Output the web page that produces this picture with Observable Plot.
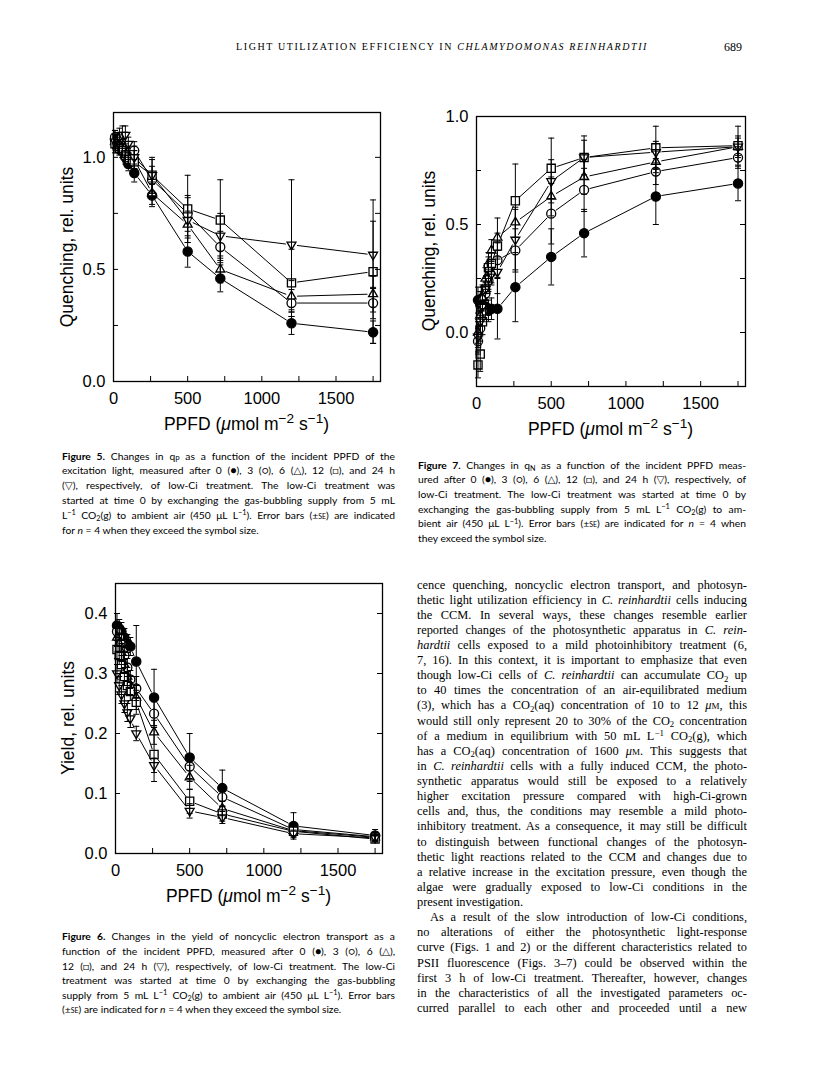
<!DOCTYPE html>
<html><head><meta charset="utf-8">
<script src="https://cdn.jsdelivr.net/npm/d3@7"></script>
<script src="https://cdn.jsdelivr.net/npm/@observablehq/plot@0.6"></script>
<style>
body{margin:0;background:#fff;}
#page{position:relative;width:816px;height:1073px;overflow:hidden;background:#fff;color:#000;}
.ln{position:absolute;white-space:nowrap;line-height:14px;}
.cap{font-family:Lato,"DejaVu Sans",sans-serif;font-size:10.3px;}
.bd{font-family:"Liberation Serif",serif;font-size:12.4px;}
.hd{font-family:"Liberation Serif",serif;font-size:10px;}
.ax{position:absolute;font-family:"Liberation Sans",Arial,sans-serif;font-size:17.5px;white-space:nowrap;line-height:18px;}
.ln sub,.ax sub{font-size:70%;vertical-align:baseline;position:relative;top:0.3em;}
.ln sup,.ax sup{font-size:72%;vertical-align:baseline;position:relative;top:-0.45em;}
.ax sup{font-size:78%;top:-0.5em;}
.sc{font-variant:small-caps;}
</style></head>
<body><div id="page"></div>
<script>
// ---------------- data ----------------
const ppfd = [10, 25, 40, 60, 80, 100, 140, 260, 500, 720, 1200, 1750];
const treatments = ["0 h", "3 h", "6 h", "12 h", "24 h"];
const xTickLabels = [0, 500, 1000, 1500];
const xMinorTicks = [250, 500, 750, 1000, 1250, 1500, 1750];

// Figure 5: qP
const qP_0h  = [1.08, 1.07, 1.05, 1.03, 1.00, 0.97, 0.93, 0.83, 0.58, 0.46, 0.26, 0.22];
const qP_3h  = [1.09, 1.08, 1.07, 1.05, 1.04, 1.02, 1.03, 0.90, 0.75, 0.60, 0.35, 0.35];
const qP_6h  = [1.07, 1.06, 1.05, 1.03, 1.01, 0.99, 0.99, 0.84, 0.70, 0.50, 0.38, 0.39];
const qP_12h = [1.06, 1.05, 1.04, 1.03, 1.01, 0.99, 0.98, 0.92, 0.77, 0.72, 0.44, 0.49];
const qP_24h = [1.07, 1.08, 1.09, 1.10, 1.10, 1.06, 1.00, 0.92, 0.72, 0.65, 0.61, 0.565];
const qP_0h_se  = [0.04, 0.03, 0.03, 0.02, 0.03, 0.03, 0.04, 0.05, 0.07, 0.06, 0.05, 0.05];
const qP_3h_se  = [0.03, 0.03, 0.03, 0.03, 0.03, 0.03, 0.04, 0.06, 0.08, 0.07, 0.06, 0.07];
const qP_6h_se  = [0.03, 0.03, 0.03, 0.03, 0.03, 0.03, 0.04, 0.05, 0.06, 0.06, 0.07, 0.08];
const qP_12h_se = [0.04, 0.03, 0.03, 0.03, 0.03, 0.03, 0.05, 0.08, 0.15, 0.18, 0.15, 0.32];
const qP_24h_se = [0.03, 0.03, 0.04, 0.04, 0.04, 0.03, 0.05, 0.07, 0.10, 0.10, 0.29, 0.15];
const qP_yLabels = [0, 0.5, 1.0];
const qP_yTicks = [0.25, 0.5, 0.75, 1.0];

// Figure 7: qN
const qN_0h  = [0.15, 0.13, 0.16, 0.12, 0.10, 0.11, 0.11, 0.21, 0.35, 0.46, 0.63, 0.69];
const qN_3h  = [-0.04, 0.02, 0.10, 0.18, 0.24, 0.28, 0.335, 0.38, 0.55, 0.66, 0.745, 0.81];
const qN_6h  = [0.00, 0.08, 0.16, 0.25, 0.32, 0.38, 0.44, 0.51, 0.63, 0.72, 0.79, 0.86];
const qN_12h = [-0.15, -0.10, 0.05, 0.20, 0.30, 0.32, 0.40, 0.61, 0.76, 0.81, 0.855, 0.865];
const qN_24h = [-0.02, 0.05, 0.12, 0.20, 0.25, 0.27, 0.28, 0.43, 0.70, 0.81, 0.835, 0.86];
const qN_0h_se  = [0.06, 0.06, 0.06, 0.06, 0.05, 0.05, 0.14, 0.16, 0.13, 0.11, 0.13, 0.08];
const qN_3h_se  = [0.06, 0.06, 0.05, 0.05, 0.05, 0.05, 0.08, 0.10, 0.14, 0.10, 0.06, 0.05];
const qN_6h_se  = [0.05, 0.05, 0.05, 0.05, 0.05, 0.05, 0.09, 0.07, 0.09, 0.08, 0.05, 0.05];
const qN_12h_se = [0.06, 0.08, 0.06, 0.05, 0.05, 0.05, 0.06, 0.17, 0.14, 0.10, 0.10, 0.09];
const qN_24h_se = [0.05, 0.05, 0.05, 0.05, 0.05, 0.05, 0.10, 0.14, 0.10, 0.08, 0.05, 0.04];
const qN_yLabels = [0, 0.5, 1.0];
const qN_yTicks = [0, 0.25, 0.5, 0.75];

// Figure 6: yield
const Y_0h  = [0.38, 0.375, 0.37, 0.36, 0.35, 0.345, 0.32, 0.26, 0.16, 0.109, 0.046, 0.030];
const Y_3h  = [0.37, 0.36, 0.35, 0.33, 0.31, 0.29, 0.275, 0.233, 0.145, 0.094, 0.040, 0.028];
const Y_6h  = [0.36, 0.35, 0.335, 0.315, 0.295, 0.28, 0.26, 0.202, 0.127, 0.075, 0.038, 0.027];
const Y_12h = [0.34, 0.33, 0.315, 0.295, 0.28, 0.27, 0.252, 0.165, 0.087, 0.066, 0.037, 0.024];
const Y_24h = [0.30, 0.28, 0.265, 0.25, 0.235, 0.225, 0.20, 0.147, 0.071, 0.06, 0.033, 0.026];
const Y_0h_se  = [0.02, 0.015, 0.015, 0.015, 0.015, 0.015, 0.06, 0.047, 0.04, 0.03, 0.022, 0.01];
const Y_3h_se  = [0.015, 0.015, 0.015, 0.015, 0.015, 0.015, 0.02, 0.02, 0.02, 0.015, 0.01, 0.006];
const Y_6h_se  = [0.015, 0.015, 0.015, 0.015, 0.015, 0.015, 0.02, 0.02, 0.02, 0.012, 0.008, 0.005];
const Y_12h_se = [0.015, 0.015, 0.015, 0.015, 0.015, 0.015, 0.02, 0.045, 0.02, 0.012, 0.008, 0.005];
const Y_24h_se = [0.015, 0.015, 0.015, 0.015, 0.015, 0.015, 0.012, 0.012, 0.012, 0.01, 0.006, 0.004];
const Y_yLabels = [0, 0.1, 0.2, 0.3, 0.4];
const Y_yTicks = [0.1, 0.2, 0.3, 0.4];

// ---------------- symbols ----------------
const triUp = {draw(c, s){const R = 1.2*Math.sqrt(s/Math.PI); c.moveTo(0,-R); c.lineTo(0.866*R,0.5*R); c.lineTo(-0.866*R,0.5*R); c.closePath();}};
const triDown = {draw(c, s){const R = 1.2*Math.sqrt(s/Math.PI); c.moveTo(0,R); c.lineTo(0.866*R,-0.5*R); c.lineTo(-0.866*R,-0.5*R); c.closePath();}};
const capSym = {draw(c, s){c.moveTo(-3,0); c.lineTo(3,0);}};
const looks = [
  {symbol:"circle", fill:"black", r:4.6},
  {symbol:"circle", fill:"white", r:4.5},
  {symbol:triUp, fill:"white", r:4.3},
  {symbol:"square", fill:"white", r:4.6},
  {symbol:triDown, fill:"white", r:4.3}
];

const page = document.getElementById("page");

function makeFig(cfg){
  const mL=70, mR=14, mT=12, mB=40;
  const W=cfg.w, H=cfg.h;
  const rows=[], segs=[];
  cfg.vals.forEach((v,si)=>{
    v.forEach((y,i)=>rows.push({s:si, t:treatments[si], x:ppfd[i], y, e:cfg.ses[si][i]}));
    for(let i=1;i<v.length;i++) segs.push({s:si, x1:ppfd[i-1], y1:v[i-1], x2:ppfd[i], y2:v[i]});
  });
  const marks=[
    Plot.arrow(segs,{x1:"x1",y1:"y1",x2:"x2",y2:"y2",insetStart:6,insetEnd:6,headLength:0,stroke:"black",strokeWidth:1}),
  ];
  looks.forEach((lk,si)=>marks.push(Plot.dot(rows.filter(d=>d.s===si),{x:"x",y:"y",r:lk.r,symbol:lk.symbol,fill:lk.fill,stroke:"black",strokeWidth:1.3})));
  marks.push(
    Plot.ruleX(rows,{x:"x",y1:d=>d.y-d.e,y2:d=>d.y+d.e,stroke:"black",strokeWidth:1}),
    Plot.dot(rows,{x:"x",y:d=>d.y+d.e,symbol:capSym,fill:"none",stroke:"black",strokeWidth:1}),
    Plot.dot(rows,{x:"x",y:d=>d.y-d.e,symbol:capSym,fill:"none",stroke:"black",strokeWidth:1}),
    Plot.tickX(xMinorTicks,{x:d=>d,insetTop:H-5,stroke:"black",strokeWidth:1}),
    Plot.tickY(cfg.yTicks,{y:d=>d,insetRight:W-5,stroke:"black",strokeWidth:1}),
    Plot.tickY(cfg.yTicks,{y:d=>d,insetLeft:W-5,stroke:"black",strokeWidth:1}),
    Plot.axisX({ticks:xTickLabels,tickSize:0,tickPadding:11,tickFormat:d3.format("d"),label:null,fontSize:16.5}),
    Plot.axisY({ticks:cfg.yLabels,tickSize:0,tickPadding:8,tickFormat:d3.format(".1f"),label:null,fontSize:16.5}),
    Plot.frame({stroke:"black",strokeWidth:1.3})
  );
  const svg = Plot.plot({
    width:mL+W+mR, height:mT+H+mB,
    marginLeft:mL, marginRight:mR, marginTop:mT, marginBottom:mB,
    x:{domain:[0,1800]}, y:{domain:cfg.yDomain},
    style:{background:"transparent", color:"black", fontFamily:"'Liberation Sans', Arial, sans-serif", fontSize:"16.5px", overflow:"visible"},
    marks
  });
  svg.style.position="absolute";
  svg.style.left=(cfg.l-mL)+"px";
  svg.style.top=(cfg.t-mT)+"px";
  page.appendChild(svg);
  // axis titles
  const xt=document.createElement("div"); xt.className="ax";
  xt.innerHTML='PPFD (<i>\u03bc</i>mol m<sup>\u22122</sup> s<sup>\u22121</sup>)';
  xt.style.left=(cfg.l+W/2)+"px"; xt.style.top=(cfg.t+H+44)+"px";
  xt.style.transform="translate(-50%,-50%)";
  page.appendChild(xt);
  const yt=document.createElement("div"); yt.className="ax";
  yt.textContent=cfg.ytitle;
  yt.style.left=cfg.ytx+"px"; yt.style.top=(cfg.t+H/2)+"px";
  yt.style.transform="translate(-50%,-50%) rotate(-90deg)";
  page.appendChild(yt);
}

makeFig({l:113,t:112,w:267,h:269,yDomain:[0,1.2],yLabels:qP_yLabels,yTicks:qP_yTicks,
  vals:[qP_0h,qP_3h,qP_6h,qP_12h,qP_24h],ses:[qP_0h_se,qP_3h_se,qP_6h_se,qP_12h_se,qP_24h_se],
  ytitle:"Quenching, rel. units",ytx:67});
makeFig({l:476,t:116,w:269,h:270,yDomain:[-0.25,1.0],yLabels:qN_yLabels,yTicks:qN_yTicks,
  vals:[qN_0h,qN_3h,qN_6h,qN_12h,qN_24h],ses:[qN_0h_se,qN_3h_se,qN_6h_se,qN_12h_se,qN_24h_se],
  ytitle:"Quenching, rel. units",ytx:429});
makeFig({l:115,t:583,w:267,h:270,yDomain:[0,0.45],yLabels:Y_yLabels,yTicks:Y_yTicks,
  vals:[Y_0h,Y_3h,Y_6h,Y_12h,Y_24h],ses:[Y_0h_se,Y_3h_se,Y_6h_se,Y_12h_se,Y_24h_se],
  ytitle:"Yield, rel. units",ytx:68});

// ---------------- text ----------------
function addLine(html, cls, x, yc, w, justify){
  const s=document.createElement("span");
  s.className="ln "+cls+(justify?" j":"");
  s.innerHTML=html;
  s.style.left=x+"px"; s.style.top=(yc-7.5)+"px";
  if(justify) s.dataset.w=w;
  page.appendChild(s);
  return s;
}
const fig5Cap = [
 '<b>Figure 5.</b> Changes in q<sub>P</sub> as a function of the incident PPFD of the',
 'excitation light, measured after 0 (\u25cf), 3 (\u25cb), 6 (\u25b3), 12 (\u25a1), and 24 h',
 '(\u25bd), respectively, of low-Ci treatment. The low-Ci treatment was',
 'started at time 0 by exchanging the gas-bubbling supply from 5 mL',
 'L<sup>\u22121</sup> CO<sub>2</sub>(g) to ambient air (450 \u03bcL L<sup>\u22121</sup>). Error bars (\u00b1<span class="sc">se</span>) are indicated',
 'for <i>n</i> = 4 when they exceed the symbol size.'
];
const fig7Cap = [
 '<b>Figure 7.</b> Changes in q<sub>N</sub> as a function of the incident PPFD meas-',
 'ured after 0 (\u25cf), 3 (\u25cb), 6 (\u25b3), 12 (\u25a1), and 24 h (\u25bd), respectively, of',
 'low-Ci treatment. The low-Ci treatment was started at time 0 by',
 'exchanging the gas-bubbling supply from 5 mL L<sup>\u22121</sup> CO<sub>2</sub>(g) to am-',
 'bient air (450 \u03bcL L<sup>\u22121</sup>). Error bars (\u00b1<span class="sc">se</span>) are indicated for <i>n</i> = 4 when',
 'they exceed the symbol size.'
];
const fig6Cap = [
 '<b>Figure 6.</b> Changes in the yield of noncyclic electron transport as a',
 'function of the incident PPFD, measured after 0 (\u25cf), 3 (\u25cb), 6 (\u25b3),',
 '12 (\u25a1), and 24 h (\u25bd), respectively, of low-Ci treatment. The low-Ci',
 'treatment was started at time 0 by exchanging the gas-bubbling',
 'supply from 5 mL L<sup>\u22121</sup> CO<sub>2</sub>(g) to ambient air (450 \u03bcL L<sup>\u22121</sup>). Error bars',
 '(\u00b1<span class="sc">se</span>) are indicated for <i>n</i> = 4 when they exceed the symbol size.'
];
fig5Cap.forEach((h,i)=>addLine(h,"cap",62,456+i*14.8,333,i<5));
fig7Cap.forEach((h,i)=>addLine(h,"cap",418,465+i*14.7,328,i<5));
fig6Cap.forEach((h,i)=>addLine(h,"cap",62,936.7+i*14.65,333,i<5));

const bodyLines = [
"cence quenching, noncyclic electron transport, and photosyn-",
"thetic light utilization efficiency in <i>C. reinhardtii</i> cells inducing",
"the CCM. In several ways, these changes resemble earlier",
"reported changes of the photosynthetic apparatus in <i>C. rein-</i>",
"<i>hardtii</i> cells exposed to a mild photoinhibitory treatment (6,",
"7, 16). In this context, it is important to emphasize that even",
"though low-Ci cells of <i>C. reinhardtii</i> can accumulate CO<sub>2</sub> up",
"to 40 times the concentration of an air-equilibrated medium",
"(3), which has a CO<sub>2</sub>(aq) concentration of 10 to 12 <i>\u03bc</i><span class=\"sc\">m</span>, this",
"would still only represent 20 to 30% of the CO<sub>2</sub> concentration",
"of a medium in equilibrium with 50 mL L<sup>\u22121</sup> CO<sub>2</sub>(g), which",
"has a CO<sub>2</sub>(aq) concentration of 1600 <i>\u03bc</i><span class=\"sc\">m</span>. This suggests that",
"in <i>C. reinhardtii</i> cells with a fully induced CCM, the photo-",
"synthetic apparatus would still be exposed to a relatively",
"higher excitation pressure compared with high-Ci-grown",
"cells and, thus, the conditions may resemble a mild photo-",
"inhibitory treatment. As a consequence, it may still be difficult",
"to distinguish between functional changes of the photosyn-",
"thetic light reactions related to the CCM and changes due to",
"a relative increase in the excitation pressure, even though the",
"algae were gradually exposed to low-Ci conditions in the",
"present investigation.",
"As a result of the slow introduction of low-Ci conditions,",
"no alterations of either the photosynthetic light-response",
"curve (Figs. 1 and 2) or the different characteristics related to",
"PSII fluorescence (Figs. 3\u20137) could be observed within the",
"first 3 h of low-Ci treatment. Thereafter, however, changes",
"in the characteristics of all the investigated parameters oc-",
"curred parallel to each other and proceeded until a new"
];
bodyLines.forEach((h,i)=>{
  const indent = i===22 ? 13 : 0;
  addLine(h,"bd",417+indent,585+i*15.12,330-indent,i!==21);
});

// header
const hd=document.createElement("span");
hd.className="ln hd"; hd.id="hdr";
hd.innerHTML='LIGHT UTILIZATION EFFICIENCY IN <i>CHLAMYDOMONAS REINHARDTII</i>';
hd.style.left="236px"; hd.style.top=(47-7.5)+"px";
page.appendChild(hd);
const pn=document.createElement("span");
pn.className="ln hd"; pn.textContent="689"; pn.style.fontSize="12px";
pn.style.left="724px"; pn.style.top=(47-7.5)+"px";
page.appendChild(pn);

function fit(){
  document.querySelectorAll(".j").forEach(el=>{
    el.style.wordSpacing="0px";
    const w=el.getBoundingClientRect().width;
    const n=(el.textContent.match(/ /g)||[]).length;
    if(n) el.style.wordSpacing=((+el.dataset.w - w)/n)+"px";
  });
  const h=document.getElementById("hdr");
  h.style.letterSpacing="0px";
  const w=h.getBoundingClientRect().width;
  h.style.letterSpacing=((412-w)/h.textContent.length)+"px";
}
fit();
if(document.fonts && document.fonts.ready) document.fonts.ready.then(fit);
</script>
</body></html>
